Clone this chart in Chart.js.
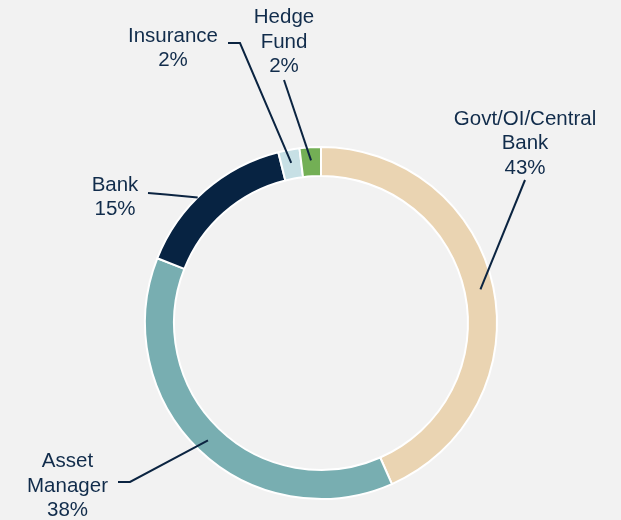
<!DOCTYPE html>
<html>
<head>
<meta charset="utf-8">
<script src="https://cdn.jsdelivr.net/npm/chart.js@4.4.1/dist/chart.umd.min.js"></script>
<style>
  html, body { margin: 0; padding: 0; background: #f2f2f2; }
  #wrap { width: 621px; height: 520px; }
</style>
</head>
<body>
<div id="wrap"><canvas id="c" width="621" height="520"></canvas></div>
<script>
// ---- data ----
const categories = [
  ['Govt/OI/Central', 'Bank'],
  ['Asset', 'Manager'],
  ['Bank'],
  ['Insurance'],
  ['Hedge', 'Fund']
];
const values = [43.4, 37.6, 15.1, 1.95, 1.95];
const colors = ['#ead4b2', '#78aeb1', '#072342', '#c7e0e5', '#73af55'];

// ---- label layout (text anchor, first baseline, leader path start/elbow, anchor position within arc) ----
const labelLayout = [
  { x: 525, y: 124.5, path: [[525, 180]], along: 0.5, radial: 0.55 },
  { x: 67.5, y: 467, path: [[118, 482], [130, 482]], along: 0.5, radial: 0.55 },
  { x: 115, y: 190.5, path: [[148, 193], [166, 194.5]], along: 0.44, radial: 1.0 },
  { x: 173, y: 41.5, path: [[228, 43], [240, 43]], along: 0.5, radial: 0.55 },
  { x: 284, y: 23, path: [[284, 80]], along: 0.5, radial: 0.55 }
];

const TEXT_COLOR = '#112c4b';
const LINE_COLOR = '#0b2441';
const FONT = '20.5px "Liberation Sans", Arial, sans-serif';
const LINE_H = 24.5;

const labelPlugin = {
  id: 'leaderLabels',
  afterDatasetsDraw(chart) {
    const ctx = chart.ctx;
    const meta = chart.getDatasetMeta(0);
    const total = values.reduce((a, b) => a + b, 0);
    meta.data.forEach((arc, i) => {
      const p = arc.getProps(['x', 'y', 'startAngle', 'endAngle', 'innerRadius', 'outerRadius'], true);
      const lay = labelLayout[i];
      const ang = p.startAngle + lay.along * (p.endAngle - p.startAngle);
      const r = p.innerRadius + lay.radial * (p.outerRadius - p.innerRadius);
      const ax = p.x + Math.cos(ang) * r;
      const ay = p.y + Math.sin(ang) * r;
      ctx.save();
      ctx.strokeStyle = LINE_COLOR;
      ctx.lineWidth = 2;
      ctx.beginPath();
      ctx.moveTo(lay.path[0][0], lay.path[0][1]);
      for (let k = 1; k < lay.path.length; k++) ctx.lineTo(lay.path[k][0], lay.path[k][1]);
      ctx.lineTo(ax, ay);
      ctx.stroke();
      ctx.fillStyle = TEXT_COLOR;
      ctx.font = FONT;
      ctx.textAlign = 'center';
      ctx.textBaseline = 'alphabetic';
      const lines = categories[i].concat([Math.round(values[i] / total * 100) + '%']);
      lines.forEach((t, j) => ctx.fillText(t, lay.x, lay.y + j * LINE_H));
      ctx.restore();
    });
  }
};

const bgPlugin = {
  id: 'bg',
  beforeDraw(chart) {
    const ctx = chart.ctx;
    ctx.save();
    ctx.fillStyle = '#f2f2f2';
    ctx.fillRect(0, 0, chart.width, chart.height);
    ctx.restore();
  }
};

new Chart(document.getElementById('c'), {
  type: 'doughnut',
  data: {
    labels: categories.map(c => c.join(' ')),
    datasets: [{
      data: values,
      backgroundColor: colors,
      borderColor: '#ffffff',
      borderWidth: 2
    }]
  },
  options: {
    responsive: false,
    animation: false,
    cutout: '83.5%',
    rotation: 0,
    layout: { padding: { left: 144, right: 123, top: 146, bottom: 20 } },
    plugins: {
      legend: { display: false },
      tooltip: { enabled: false }
    }
  },
  plugins: [bgPlugin, labelPlugin]
});
</script>
</body>
</html>
